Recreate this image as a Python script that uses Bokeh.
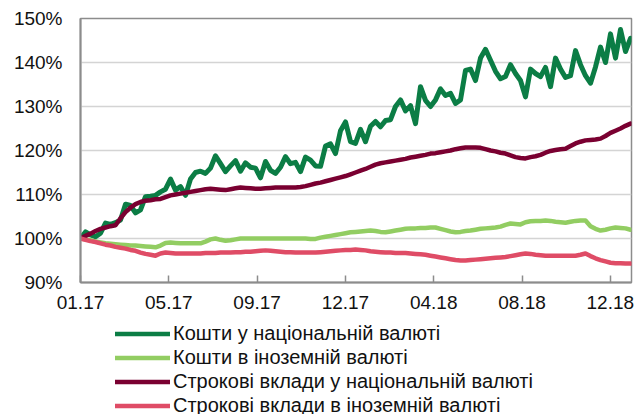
from bokeh.plotting import figure
from bokeh.layouts import column
from bokeh.models import Range1d, FixedTicker, Legend, LegendItem
from bokeh.embed import file_html
from bokeh.resources import INLINE

# Observation index (roughly weekly sampling, Jan 2017 .. Dec 2018)
tick_pos = [0, 17.66, 35.32, 52.98, 70.64, 88.3, 105.96]
tick_labels = ["01.17", "05.17", "09.17", "12.17", "04.18", "08.18", "12.18"]
y_ticks = [90, 100, 110, 120, 130, 140, 150]

names = ["Кошти у національній валюті",
         "Кошти в іноземній валюті",
         "Строкові вклади у національній валюті",
         "Строкові вклади в іноземній валюті"]

funds_uah = [
    100.0, 101.5, 100.8, 100.4, 101.2, 103.5, 103.2, 103.6, 104.2, 107.8,
    107.5, 105.8, 106.5, 109.5, 109.6, 109.8, 110.6, 111.2, 113.5, 111.0,
    111.8, 109.8, 113.5, 115.0, 115.3, 114.8, 116.0, 118.8, 117.0, 115.2,
    116.5, 117.7, 115.3, 117.2, 116.2, 116.0, 113.8, 117.5, 115.5, 114.8,
    116.2, 118.6, 117.0, 117.3, 115.2, 118.5, 117.8, 116.5, 116.4, 121.0,
    121.5, 119.3, 124.5, 126.5, 122.0, 121.6, 124.8, 122.0, 125.5, 126.6,
    125.4, 126.8, 127.0, 130.0, 131.5, 129.0, 130.2, 126.1, 134.5, 131.4,
    130.0, 131.5, 134.0, 132.5, 133.0, 130.7, 131.5, 138.2, 138.5, 135.9,
    141.0, 143.0, 140.5, 138.0, 136.3, 136.8, 139.5, 137.5, 135.9, 132.2,
    138.5, 137.5, 136.8, 138.9, 134.5, 141.0, 138.5, 136.6, 137.0, 142.7,
    139.5, 137.0, 135.3, 139.0, 143.5, 140.0, 146.5, 141.0, 147.5, 142.5,
    145.5]

funds_fx = [
    100.0, 99.8, 99.6, 99.3, 99.1, 98.9, 98.8, 98.7, 98.6, 98.5,
    98.4, 98.4, 98.3, 98.2, 98.1, 98.0, 98.4, 99.0, 99.1, 99.0,
    98.9, 98.9, 98.9, 98.9, 98.9, 99.3, 99.8, 100.0, 99.7, 99.5,
    99.6, 99.8, 100.0, 100.0, 100.0, 100.0, 100.0, 100.0, 100.0, 100.0,
    100.0, 100.0, 100.0, 100.0, 100.0, 100.0, 99.9, 99.9, 100.2, 100.4,
    100.6, 100.8, 101.0, 101.2, 101.4, 101.5, 101.6, 101.7, 101.8, 101.7,
    101.5, 101.4, 101.6, 101.8, 102.0, 102.2, 102.3, 102.3, 102.4, 102.4,
    102.5, 102.5, 102.2, 101.9, 101.6, 101.4, 101.5, 101.7, 101.8, 102.0,
    102.2, 102.3, 102.4, 102.5, 102.7, 103.1, 103.4, 103.3, 103.2, 103.7,
    103.9, 104.0, 104.0, 104.1, 104.0, 103.8, 103.7, 103.6, 103.8, 104.0,
    104.1, 104.1, 102.8, 102.2, 101.8, 102.0, 102.3, 102.5, 102.4, 102.3,
    102.0]

term_uah = [
    100.0, 100.6, 101.1, 101.7, 102.2, 102.5, 102.8, 103.0, 104.6, 106.0,
    107.0, 107.8, 108.3, 108.6, 108.7, 108.9, 109.0, 109.4, 109.8, 110.0,
    110.2, 110.4, 110.6, 110.8, 111.0, 111.2, 111.3, 111.2, 111.1, 111.0,
    111.2, 111.4, 111.6, 111.5, 111.4, 111.3, 111.3, 111.4, 111.5, 111.6,
    111.6, 111.6, 111.6, 111.6, 111.7, 111.9, 112.2, 112.5, 112.7, 113.0,
    113.3, 113.6, 113.9, 114.2, 114.6, 115.0, 115.4, 115.8, 116.3, 116.8,
    117.1, 117.3, 117.5, 117.7, 117.9, 118.1, 118.4, 118.6, 118.8, 119.0,
    119.3, 119.4, 119.6, 119.8, 120.0, 120.3, 120.5, 120.7, 120.7, 120.7,
    120.6, 120.3, 120.0, 119.8, 119.5, 119.3, 118.9, 118.5, 118.3, 118.2,
    118.5, 118.7, 119.0, 119.5, 119.9, 120.1, 120.3, 120.4, 121.0, 121.6,
    122.0, 122.3, 122.4, 122.5, 122.7, 123.3, 124.0, 124.5, 125.0, 125.6,
    126.1]

term_fx = [
    100.0, 99.7, 99.4, 99.2, 98.9, 98.6, 98.4, 98.1, 97.9, 97.7,
    97.4, 97.2, 96.8, 96.5, 96.3, 96.1, 96.6, 96.8, 96.7, 96.6,
    96.6, 96.6, 96.6, 96.6, 96.6, 96.7, 96.7, 96.7, 96.8, 96.8,
    96.8, 96.9, 96.9, 97.0, 97.0, 97.1, 97.2, 97.3, 97.2, 97.1,
    97.0, 96.9, 96.9, 96.8, 96.8, 96.8, 96.8, 96.8, 96.9, 97.0,
    97.1, 97.2, 97.3, 97.4, 97.4, 97.5, 97.4, 97.3, 97.1, 97.0,
    96.9, 96.8, 96.8, 96.7, 96.7, 96.7, 96.6, 96.5, 96.4, 96.3,
    96.1, 95.9, 95.7, 95.5, 95.3, 95.1, 95.0, 95.0, 95.1, 95.2,
    95.3, 95.4, 95.5, 95.6, 95.7, 95.8, 96.0, 96.2, 96.4, 96.6,
    96.5, 96.3, 96.2, 96.1, 96.1, 96.1, 96.1, 96.1, 96.1, 96.1,
    96.3, 96.6, 96.0, 95.5, 95.1, 94.8, 94.5, 94.4, 94.4, 94.3,
    94.3]

x = list(range(len(funds_uah)))

colors = ["#0B7D45", "#92CD62", "#7A0031", "#DF4C66"]
widths = [5, 4.5, 4.5, 4.5]
series = [funds_uah, funds_fx, term_uah, term_fx]

p = figure(width=638, height=322, output_backend="svg", toolbar_location=None,
           x_range=Range1d(0, 110.2), y_range=Range1d(90, 150),
           min_border_left=80, min_border_right=7, min_border_top=18,
           min_border_bottom=40)
p.background_fill_color = "white"
p.border_fill_color = "white"
p.outline_line_color = "#8c8c8c"
p.outline_line_width = 1.5

for ys, c, w in zip(series, colors, widths):
    p.line(x, ys, line_color=c, line_width=w, line_join="round", line_cap="round")

# axes
p.yaxis.ticker = FixedTicker(ticks=y_ticks)
p.yaxis.major_label_overrides = {v: f"{v}%" for v in y_ticks}
p.xaxis.ticker = FixedTicker(ticks=tick_pos)
p.xaxis.major_label_overrides = dict(zip(tick_pos, tick_labels))

for ax in [p.xaxis[0], p.yaxis[0]]:
    ax.axis_line_color = "#8c8c8c"
    ax.axis_line_width = 2
    ax.major_label_text_font = "Liberation Sans"
    ax.major_label_text_font_size = "19px"
    ax.major_label_text_color = "#111111"
    ax.minor_tick_line_color = None
    ax.minor_tick_out = 0
    ax.minor_tick_in = 0
p.yaxis.major_tick_line_color = None
p.yaxis.major_tick_out = 0
p.yaxis.major_tick_in = 0
p.yaxis.major_label_standoff = 18
p.xaxis.major_tick_in = 7
p.xaxis.major_tick_out = 0
p.xaxis.major_tick_line_color = "#8c8c8c"
p.xaxis.major_tick_line_width = 1.5
p.xaxis.major_label_standoff = 13

p.xgrid.grid_line_color = None
p.ygrid.grid_line_color = "#d4d4d4"
p.ygrid.grid_line_width = 1.5
p.ygrid.ticker = FixedTicker(ticks=[100, 110, 120, 130, 140])

# legend strip under the chart: same series drawn again, out of its view,
# only to provide the legend glyphs
leg = figure(width=638, height=92, output_backend="svg", toolbar_location=None,
             x_range=Range1d(0, 1), y_range=Range1d(0, 1),
             x_axis_location=None, y_axis_location=None,
             min_border_left=80, min_border_right=7, min_border_top=0,
             min_border_bottom=0)
leg.outline_line_color = None
leg.xgrid.grid_line_color = None
leg.ygrid.grid_line_color = None
leg_renderers = [leg.line(x, ys, line_color=c, line_width=4.5, line_cap="round")
                 for ys, c in zip(series, colors)]
legend = Legend(items=[LegendItem(label=n, renderers=[r]) for n, r in zip(names, leg_renderers)],
                location=(35, -3), orientation="vertical",
                glyph_width=55, glyph_height=23, label_height=23, spacing=1,
                label_standoff=3, padding=0, margin=0,
                label_text_font="Liberation Sans", label_text_font_size="20px",
                label_text_color="#111111",
                background_fill_alpha=0, border_line_color=None)
leg.add_layout(legend)

layout = column(p, leg, spacing=0)
open("out.html", "w").write(file_html(layout, INLINE))
